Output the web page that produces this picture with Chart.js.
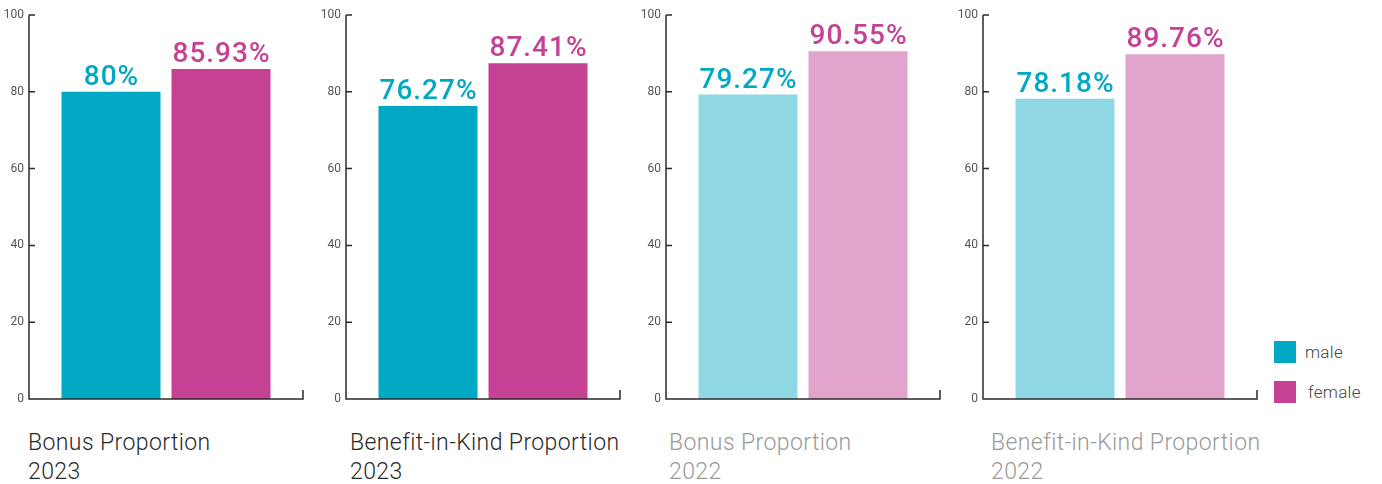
<!DOCTYPE html>
<html>
<head>
<meta charset="utf-8">
<script src="https://cdn.jsdelivr.net/npm/chart.js@4/dist/chart.umd.min.js"></script>
<style>
  html, body { margin: 0; padding: 0; background: #fff; width: 1382px; height: 484px; overflow: hidden; }
  .panel { position: absolute; top: 0; width: 310px; height: 420px; }
  .title { position: absolute; top: 428px; font-family: Roboto, "Noto Sans", sans-serif; font-weight: 300; font-size: 23px; letter-spacing: 0.4px; line-height: 29px; white-space: nowrap; }
  .legend { position: absolute; font-family: Roboto, "Noto Sans", sans-serif; font-weight: 300; font-size: 17px; letter-spacing: 0.3px; color: #444; }
  .legend .sw { position: absolute; width: 22px; height: 22px; }
  .legend .lb { position: absolute; white-space: nowrap; }
</style>
</head>
<body>
<script>
// ---- data ----
const categories = ['Bonus Proportion', 'Benefit-in-Kind Proportion', 'Bonus Proportion', 'Benefit-in-Kind Proportion'];
const years = ['2023', '2023', '2022', '2022'];
const maleValues = [80, 76.27, 79.27, 78.18];
const femaleValues = [85.93, 87.41, 90.55, 89.76];
const yTicks = [0, 20, 40, 60, 80, 100];
const seriesNames = ['male', 'female'];

// ---- styles ----
const maleColors = ['#00a9c3', '#00a9c3', '#8fd8e3', '#8fd8e3'];
const femaleColors = ['#c44194', '#c44194', '#e1a4cd', '#e1a4cd'];
const maleLabelColor = '#00a9c3';
const femaleLabelColor = '#c44194';
const titleColors = ['#2a2a2a', '#2a2a2a', '#9a9a9a', '#9a9a9a'];
const panelLefts = [0, 317, 637, 954];
const titleLefts = [28, 350, 669, 991];

const axisPlugin = {
  id: 'axisPlugin',
  afterDatasetsDraw(chart) {
    const ctx = chart.ctx;
    const y = chart.scales.y;
    const a = chart.chartArea;
    ctx.save();
    ctx.strokeStyle = '#2b2b2b';
    ctx.lineWidth = 1.5;
    ctx.beginPath();
    ctx.moveTo(a.left, y.getPixelForValue(100));
    ctx.lineTo(a.left, y.getPixelForValue(0));
    ctx.lineTo(a.right, y.getPixelForValue(0));
    ctx.lineTo(a.right, y.getPixelForValue(0) - 9);
    yTicks.forEach(v => {
      const py = y.getPixelForValue(v);
      ctx.moveTo(a.left, py);
      ctx.lineTo(a.left + 6, py);
    });
    ctx.stroke();
    // value labels
    ctx.font = '500 28px Roboto, "Noto Sans", sans-serif';
    try { ctx.letterSpacing = '1px'; } catch (e) {}
    ctx.textAlign = 'center';
    ctx.textBaseline = 'alphabetic';
    chart.data.datasets.forEach((ds, di) => {
      const meta = chart.getDatasetMeta(di);
      meta.data.forEach((bar, i) => {
        ctx.fillStyle = di === 0 ? maleLabelColor : femaleLabelColor;
        ctx.fillText(ds.data[i] + '%', bar.x + 0.5, bar.y - 7);
      });
    });
    ctx.restore();
  }
};

for (let p = 0; p < 4; p++) {
  const div = document.createElement('div');
  div.className = 'panel';
  div.style.left = panelLefts[p] + 'px';
  const cv = document.createElement('canvas');
  cv.width = 310; cv.height = 420;
  cv.style.width = '310px'; cv.style.height = '420px';
  div.appendChild(cv);
  document.body.appendChild(div);

  const t = document.createElement('div');
  t.className = 'title';
  t.style.left = titleLefts[p] + 'px';
  t.style.color = titleColors[p];
  t.innerHTML = categories[p] + '<br>' + years[p];
  document.body.appendChild(t);

  new Chart(cv, {
    type: 'bar',
    data: {
      labels: [categories[p]],
      datasets: [
        { label: seriesNames[0], data: [maleValues[p]], backgroundColor: maleColors[p], categoryPercentage: 0.803, barPercentage: 0.9 },
        { label: seriesNames[1], data: [femaleValues[p]], backgroundColor: femaleColors[p], categoryPercentage: 0.803, barPercentage: 0.9 }
      ]
    },
    options: {
      responsive: false,
      animation: false,
      devicePixelRatio: 1,
      layout: { padding: { top: 15, bottom: 21, right: 7, left: 0 } },
      plugins: { legend: { display: false }, tooltip: { enabled: false } },
      scales: {
        x: { display: false },
        y: {
          min: 0, max: 100,
          afterBuildTicks(scale) { scale.ticks = yTicks.map(v => ({ value: v })); },
          afterFit(scale) { scale.width = 29; },
          grid: { display: false, drawTicks: false },
          border: { display: false },
          ticks: { padding: 5, color: '#555', font: { family: 'Roboto, "Noto Sans", sans-serif', size: 12 } }
        }
      }
    },
    plugins: [axisPlugin]
  });
}

// legend
const legendItems = [
  { name: seriesNames[0], color: maleColors[0], top: 341, textLeft: 1305 },
  { name: seriesNames[1], color: femaleColors[0], top: 381, textLeft: 1308 }
];
legendItems.forEach(it => {
  const lg = document.createElement('div');
  lg.className = 'legend';
  lg.style.left = '0px'; lg.style.top = '0px';
  const sw = document.createElement('div');
  sw.className = 'sw';
  sw.style.left = '1274px'; sw.style.top = it.top + 'px';
  sw.style.background = it.color;
  const lb = document.createElement('div');
  lb.className = 'lb';
  lb.style.left = it.textLeft + 'px'; lb.style.top = (it.top + 1) + 'px';
  lb.textContent = it.name;
  lg.appendChild(sw); lg.appendChild(lb);
  document.body.appendChild(lg);
});
</script>
</body>
</html>
